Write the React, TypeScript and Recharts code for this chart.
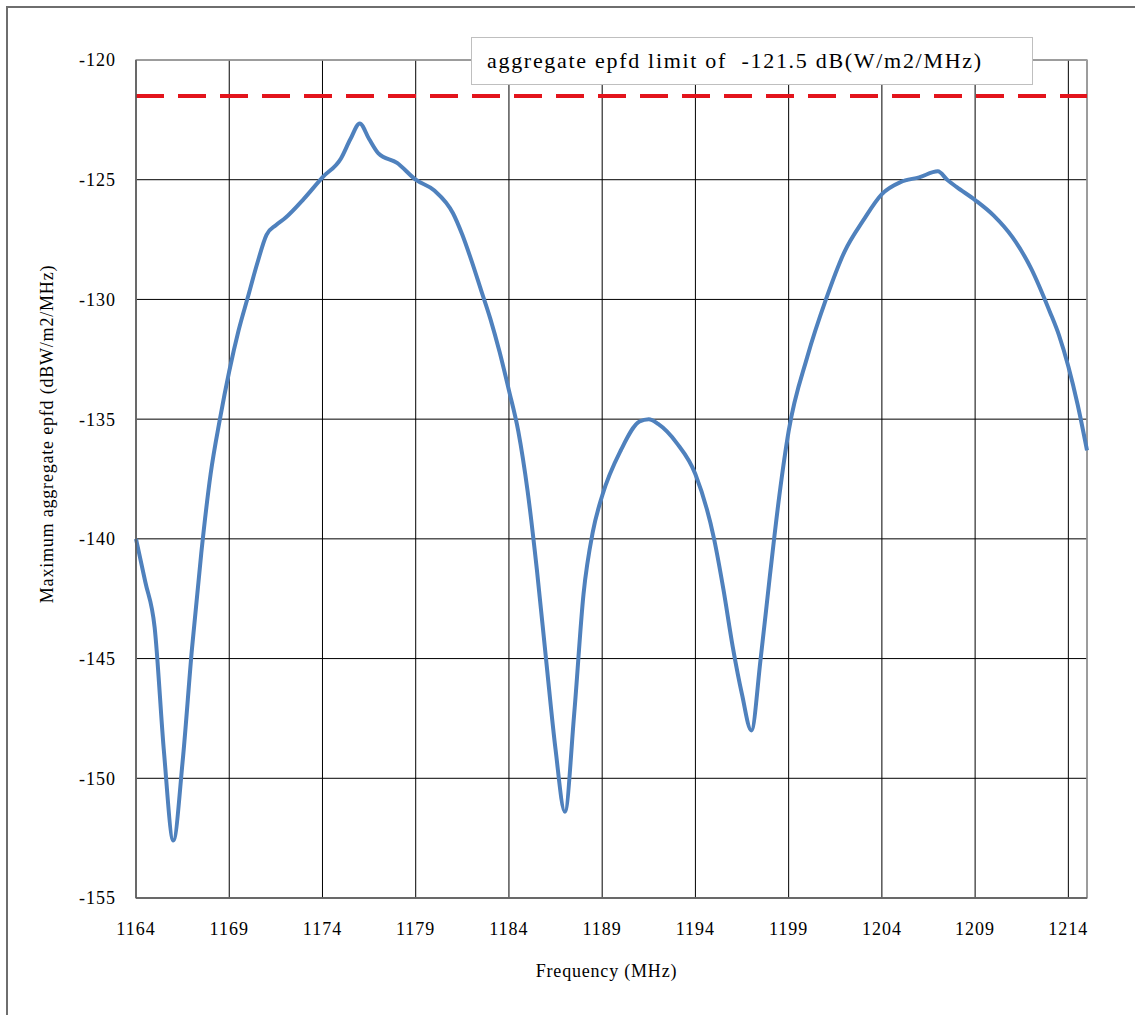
import React from 'react';
import {
  LineChart,
  Line,
  XAxis,
  YAxis,
  CartesianGrid,
  ReferenceLine,
  ReferenceArea,
} from 'recharts';

// frequency (MHz) and max aggregate epfd (dBW/m2/MHz)
const freqs = [
  1164, 1164.5, 1165, 1165.5, 1166, 1166.5, 1167, 1167.5, 1168, 1168.5,
  1169, 1169.5, 1170, 1170.5, 1171, 1171.5, 1172, 1173, 1174, 1175,
  1175.5, 1176, 1176.5, 1177, 1178, 1179, 1180, 1181, 1181.5, 1182,
  1182.5, 1183, 1183.5, 1184, 1184.5, 1185, 1185.5, 1186, 1186.5, 1187,
  1187.5, 1188, 1188.5, 1189, 1190, 1191, 1191.5, 1192, 1193, 1194,
  1195, 1195.5, 1196, 1196.5, 1197, 1197.5, 1198, 1198.5, 1199, 1200,
  1201, 1202, 1203, 1204, 1205, 1206, 1207, 1207.5, 1208, 1209,
  1210, 1211, 1212, 1213, 1213.5, 1214, 1214.5, 1215,
];

const epfd = [
  -140.0, -141.8, -143.7, -148.9, -152.6, -149.3, -144.6, -140.6, -137.3, -135.0,
  -133.0, -131.3, -129.9, -128.5, -127.3, -126.9, -126.6, -125.8, -124.9, -124.1,
  -123.3, -122.65, -123.3, -123.9, -124.3, -125.0, -125.45, -126.4, -127.3, -128.4,
  -129.6, -130.8, -132.2, -133.8, -135.5, -138.0, -141.3, -145.1, -148.8, -151.4,
  -147.3, -142.3, -139.7, -138.2, -136.3, -135.1, -135.0, -135.2, -136.0, -137.3,
  -140.0, -142.1, -144.5, -146.5, -148.0, -145.0, -141.5, -138.2, -135.5, -132.4,
  -130.0, -128.0, -126.7, -125.6, -125.1, -124.9, -124.65, -125.0, -125.3, -125.85,
  -126.5, -127.4, -128.7, -130.5, -131.5, -132.8, -134.4, -136.3,
];

const xTicks = [1164, 1169, 1174, 1179, 1184, 1189, 1194, 1199, 1204, 1209, 1214];
const yTicks = [-155, -150, -145, -140, -135, -130, -125, -120];

const EPFD_LIMIT = -121.5;
const limitText = 'aggregate epfd limit of  -121.5 dB(W/m2/MHz)';

const data = freqs.map((f, i) => ({ freq: f, epfd: epfd[i] }));

const serif = "'Liberation Serif', 'Times New Roman', serif";

const tickStyle = {
  fill: '#000',
  fontSize: 18,
  fontFamily: serif,
  style: { letterSpacing: '1px' },
};

const YTitle = (props: any) => {
  const vb = props.viewBox || { x: 36, y: 60, width: 100, height: 838 };
  const cx = vb.x + 11;
  const cy = vb.y + vb.height / 2 - 45;
  return (
    <text
      x={cx}
      y={cy}
      transform={`rotate(-90 ${cx} ${cy})`}
      textAnchor="middle"
      dominantBaseline="central"
      fill="#000"
      fontSize={18}
      fontFamily={serif}
      style={{ letterSpacing: '0.8px' }}
    >
      Maximum aggregate epfd (dBW/m2/MHz)
    </text>
  );
};

const XTitle = (props: any) => {
  const vb = props.viewBox || { x: 136, y: 898, width: 951, height: 100 };
  const cx = vb.x + vb.width / 2 - 5;
  const cy = vb.y + 79;
  return (
    <text
      x={cx}
      y={cy}
      textAnchor="middle"
      fill="#000"
      fontSize={18}
      fontFamily={serif}
      style={{ letterSpacing: '0.8px' }}
    >
      Frequency (MHz)
    </text>
  );
};

export default function App() {
  return (
    <div
      style={{
        position: 'fixed',
        left: 0,
        top: 0,
        width: 1135,
        height: 1015,
        background: '#fff',
        overflow: 'hidden',
      }}
    >
      <div
        style={{
          position: 'absolute',
          left: 6,
          top: 6,
          width: 1200,
          height: 1100,
          border: '2px solid #6e6e6e',
        }}
      />
      <LineChart
        width={1135}
        height={1015}
        data={data}
        margin={{ top: 60, right: 48, bottom: 17, left: 36 }}
      >
        <CartesianGrid stroke="#000" strokeWidth={1} />
        <ReferenceArea
          x1={1164}
          x2={1215}
          y1={-155}
          y2={-120}
          fill="none"
          stroke="#a6a6a6"
          strokeWidth={1.5}
        />
        <XAxis
          dataKey="freq"
          type="number"
          domain={[1164, 1215]}
          ticks={xTicks}
          interval={0}
          height={100}
          tickLine={false}
          tickMargin={18}
          axisLine={{ stroke: '#595959', strokeWidth: 1.5 }}
          tick={tickStyle}
          label={XTitle}
        />
        <YAxis
          type="number"
          domain={[-155, -120]}
          ticks={yTicks}
          interval={0}
          width={100}
          tickLine={false}
          tickMargin={14}
          axisLine={{ stroke: '#595959', strokeWidth: 1.5 }}
          tick={tickStyle}
          label={YTitle}
        />
        <ReferenceLine
          y={EPFD_LIMIT}
          stroke="#e3141c"
          strokeWidth={4}
          strokeDasharray="28 14"
        />
        <Line
          type="monotone"
          dataKey="epfd"
          stroke="#4f81bd"
          strokeWidth={4}
          dot={false}
          activeDot={false}
          isAnimationActive={false}
        />
      </LineChart>
      <div
        style={{
          position: 'absolute',
          left: 471,
          top: 37,
          width: 562,
          height: 48,
          boxSizing: 'border-box',
          border: '1px solid #bfbfbf',
          background: '#fff',
          fontFamily: serif,
          fontSize: 22,
          letterSpacing: '1.7px',
          lineHeight: '46px',
          paddingLeft: 15,
          color: '#000',
          whiteSpace: 'pre',
          zIndex: 2,
        }}
      >
        {limitText}
      </div>
    </div>
  );
}
